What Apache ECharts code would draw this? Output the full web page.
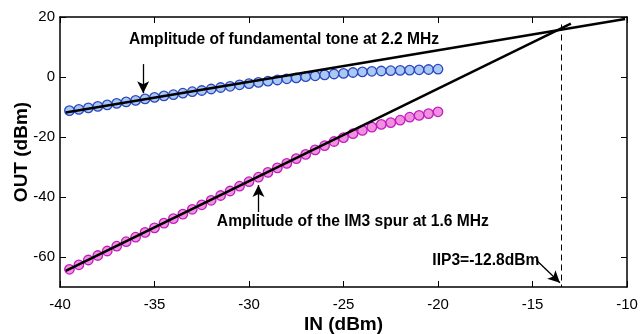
<!DOCTYPE html>
<html>
<head>
<meta charset="utf-8">
<script src="https://cdn.jsdelivr.net/npm/echarts@6/dist/echarts.min.js"></script>
<style>html,body{margin:0;padding:0;background:#fff}#c{width:644px;height:334px}</style>
</head>
<body>
<div id="c"></div>
<script>
// Input power (dBm)
var inputs = [-39.5,-39,-38.5,-38,-37.5,-37,-36.5,-36,-35.5,-35,-34.5,-34,-33.5,-33,-32.5,-32,-31.5,-31,-30.5,-30,
  -29.5,-29,-28.5,-28,-27.5,-27,-26.5,-26,-25.5,-25,-24.5,-24,-23.5,-23,-22.5,-22,-21.5,-21,-20.5,-20];
// Fundamental tone output (dBm)
var fundamental = [-11.2,-10.8,-10.3,-9.8,-9.3,-8.8,-8.3,-7.8,-7.3,-6.8,-6.3,-5.9,-5.4,-4.9,-4.5,-4.0,-3.5,-3.1,-2.6,-2.2,
  -1.8,-1.4,-1.0,-0.6,-0.3,0.1,0.4,0.7,1.0,1.2,1.5,1.7,1.9,2.0,2.1,2.2,2.3,2.4,2.5,2.6];
// IM3 spur output (dBm)
var im3 = [-64.1,-62.6,-61.0,-59.5,-58.0,-56.4,-54.9,-53.4,-51.8,-50.3,-48.7,-47.2,-45.7,-44.1,-42.6,-41.1,-39.5,-38.0,-36.4,-34.9,
  -33.4,-31.8,-30.3,-28.8,-27.2,-25.8,-24.3,-22.9,-21.5,-20.2,-18.9,-17.8,-16.7,-15.8,-15.2,-14.4,-13.4,-12.8,-12.2,-11.6];
// Extrapolated fit lines (endpoints)
var fundFit = [[-39.7,-11.8],[-10.1,19.3]];
var im3Fit = [[-39.7,-64.6],[-12.97,17.8]];
var iip3X = -13.5;
var xTicks = [-40,-35,-30,-25,-20,-15,-10];
var yTicks = [-60,-40,-20,0,20];

var chart = echarts.init(document.getElementById('c'), null, {renderer:'canvas'});
var font = 'Liberation Sans, Arial, sans-serif';
function pairs(xs, ys){ return xs.map(function(x,i){return [x, ys[i]];}); }

var axisLineStyle = {color:'#000', width:1.5};
var option = {
  backgroundColor:'#fff',
  animation:false,
  grid:{left:60, right:17, top:17, bottom:47, containLabel:false, outerBoundsMode:'none'},
  xAxis:[{
    type:'value', min:-40, max:-10, interval:5, position:'bottom',
    name:'IN (dBm)', nameLocation:'middle', nameGap:28, nameMoveOverlap:false,
    nameTextStyle:{fontFamily:font, fontWeight:'bold', fontSize:19, color:'#000'},
    axisLine:{show:true, onZero:false, lineStyle:axisLineStyle},
    axisTick:{show:true, inside:true, length:6, lineStyle:{color:'#000', width:1}},
    axisLabel:{fontFamily:font, fontSize:15, color:'#000', margin:10},
    splitLine:{show:false}
  },{
    type:'value', min:-40, max:-10, interval:5, position:'top',
    axisLine:{show:true, onZero:false, lineStyle:axisLineStyle},
    axisTick:{show:true, inside:true, length:6, lineStyle:{color:'#000', width:1}},
    axisLabel:{show:false}, splitLine:{show:false}
  }],
  yAxis:[{
    type:'value', min:-70, max:20, position:'left',
    name:'OUT (dBm)', nameLocation:'middle', nameGap:29, nameRotate:90, nameMoveOverlap:false,
    nameTextStyle:{fontFamily:font, fontWeight:'bold', fontSize:19, color:'#000'},
    axisLine:{show:true, onZero:false, lineStyle:axisLineStyle},
    axisTick:{show:true, inside:true, length:6, customValues:yTicks, lineStyle:{color:'#000', width:1}},
    axisLabel:{fontFamily:font, fontSize:15, color:'#000', margin:5, customValues:yTicks},
    splitLine:{show:false}
  },{
    type:'value', min:-70, max:20, position:'right',
    axisLine:{show:true, onZero:false, lineStyle:axisLineStyle},
    axisTick:{show:true, inside:true, length:6, customValues:yTicks, lineStyle:{color:'#000', width:1}},
    axisLabel:{show:false}, splitLine:{show:false}
  }],
  series:[
    {type:'line', data:fundFit, symbol:'none', lineStyle:{color:'#000', width:2.5}, z:3},
    {type:'line', data:im3Fit, symbol:'none', lineStyle:{color:'#000', width:2.5}, z:3},
    {type:'scatter', data:pairs(inputs, fundamental), symbol:'circle', symbolSize:9.5,
     itemStyle:{color:'#a9c8f2', borderColor:'#2a46c0', borderWidth:1.3, opacity:1}, z:2},
    {type:'scatter', data:pairs(inputs, im3), symbol:'circle', symbolSize:9.5,
     itemStyle:{color:'#f290e0', borderColor:'#c21cc0', borderWidth:1.3, opacity:1}, z:2},
    {type:'line', data:[], symbol:'none', z:5,
     markLine:{silent:true, animation:false, label:{show:false},
       data:[
         [{coord:[iip3X, 17.5], symbol:'none', lineStyle:{type:[6,4], color:'#000', width:1}},
          {coord:[iip3X, -70], symbol:'none'}],
         [{coord:[-35.6, 4.3], symbol:'none', lineStyle:{type:'solid', color:'#000', width:1.3}},
          {coord:[-35.6, -5.4], symbol:'arrow', symbolSize:[9,12]}],
         [{coord:[-29.5, -45], symbol:'none', lineStyle:{type:'solid', color:'#000', width:1.3}},
          {coord:[-29.5, -36], symbol:'arrow', symbolSize:[9,12]}],
         [{coord:[-14.8, -61.0], symbol:'none', lineStyle:{type:'solid', color:'#000', width:1.3}},
          {coord:[-13.55, -68.6], symbol:'arrow', symbolSize:[9,12]}]
       ]},
     markPoint:{silent:true, symbolSize:0, animation:false,
       label:{show:true, position:'right', distance:0, fontFamily:font, fontWeight:'bold', fontSize:15.6, color:'#000',
              formatter:function(p){return p.name;}},
       data:[
         {name:'Amplitude of fundamental tone at 2.2 MHz', coord:[-36.35, 12.3]},
         {name:'Amplitude of the IM3 spur at 1.6 MHz', coord:[-31.7, -48.2]},
         {name:'IIP3=-12.8dBm', coord:[-20.3, -61.3]}
       ]}
    }
  ]
};
chart.setOption(option);
</script>
</body>
</html>
